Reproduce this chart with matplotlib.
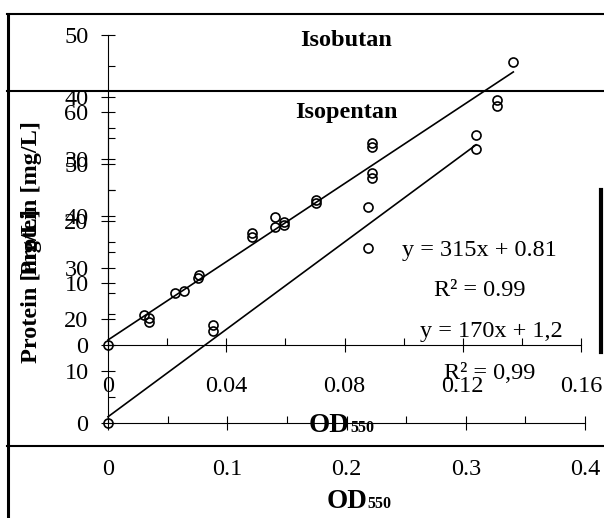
import matplotlib
matplotlib.use('Agg')
import matplotlib.pyplot as plt
import numpy as np
from matplotlib.ticker import MultipleLocator

plt.rcParams['font.family'] = ['Liberation Serif', 'DejaVu Serif']

# ---- Isobutan data ----
iso_b_x = [0, 0.0123, 0.0140, 0.0140, 0.0227, 0.0258, 0.0308, 0.0306, 0.0486, 0.0486,
           0.0565, 0.0565, 0.0596, 0.0596, 0.0704, 0.0704, 0.0892, 0.0892, 0.0892, 0.0892,
           0.1315, 0.1315, 0.1371]
iso_b_y = [0, 4.8, 4.3, 3.75, 8.4, 8.7, 11.3, 10.8, 18.0, 17.45,
           20.7, 18.95, 19.9, 19.35, 23.4, 22.9, 32.5, 31.9, 27.7, 26.9,
           39.5, 38.5, 45.6]
iso_b_slope, iso_b_icpt = 315, 0.81

# ---- Isopentan data ----
iso_p_x = [0, 0.0883, 0.0883, 0.2184, 0.2184, 0.3086, 0.3086]
iso_p_y = [0, 18.9, 17.75, 41.6, 33.8, 55.6, 52.9]
iso_p_slope, iso_p_icpt = 170, 1.2

b_xticks = [0, 0.04, 0.08, 0.12, 0.16]
b_xlabels = ['0', '0.04', '0.08', '0.12', '0.16']
b_yticks = [0, 10, 20, 30, 40, 50]
p_xticks = [0, 0.1, 0.2, 0.3, 0.4]
p_xlabels = ['0', '0.1', '0.2', '0.3', '0.4']
p_yticks = [0, 10, 20, 30, 40, 50, 60]

W, H = 604, 518
fig = plt.figure(figsize=(W / 100, H / 100), dpi=100)


def fx(px):
    return px / W


def fy(py):
    return 1 - py / H


# frame overlay (pixel coordinates)
ax0 = fig.add_axes([0, 0, 1, 1])
ax0.set_xlim(0, W)
ax0.set_ylim(H, 0)
ax0.axis('off')
ax0.patch.set_alpha(0)
flw = 1.5
ax0.plot([7, W], [13.5, 13.5], color='black', lw=flw)
ax0.plot([7, W], [90.7, 90.7], color='black', lw=flw)
ax0.plot([7, W], [446, 446], color='black', lw=flw)
ax0.plot([7.5, 7.5], [13.5, H], color='black', lw=2.2)
ax0.plot([601, 601], [190, 352], color='black', lw=3)

FS = 17.5


def setup(ax, xlim, ylim, xticks, xlabels, yticks, xminor, yminor, xpad):
    ax.set_xlim(xlim)
    ax.set_ylim(ylim)
    ax.patch.set_alpha(0)
    for s in ['top', 'right']:
        ax.spines[s].set_visible(False)
    for s in ['left', 'bottom']:
        ax.spines[s].set_linewidth(0.8)
    ax.set_xticks(xticks)
    ax.set_xticklabels(xlabels)
    ax.set_yticks(yticks)
    ax.set_yticklabels([str(v) for v in yticks])
    ax.xaxis.set_minor_locator(MultipleLocator(xminor))
    ax.yaxis.set_minor_locator(MultipleLocator(yminor))
    ax.tick_params(which='major', direction='inout', length=10, width=0.8,
                   labelsize=FS, colors='black')
    ax.tick_params(axis='y', which='major', pad=9)
    ax.tick_params(axis='x', which='major', pad=xpad)
    ax.tick_params(which='minor', direction='in', length=5, width=0.8)


# Isobutan axes
axA = fig.add_axes([fx(108), fy(345), 473 / W, 310.3 / H])
setup(axA, (0, 0.16), (0, 50), b_xticks, b_xlabels, b_yticks, 0.02, 5, 17)
# Isopentan axes
axB = fig.add_axes([fx(108), fy(423), 477 / W, 311 / H])
setup(axB, (0, 0.4), (0, 60), p_xticks, p_xlabels, p_yticks, 0.05, 5, 21)

mk = dict(marker='o', ls='none', mfc='none', mec='black', ms=6.5, mew=1.2, clip_on=False)
axA.plot(iso_b_x, iso_b_y, **mk)
axB.plot(iso_p_x, iso_p_y, **mk)

xa = np.array([0, max(iso_b_x)])
axA.plot(xa, iso_b_slope * xa + iso_b_icpt, color='black', lw=1.2, clip_on=False)
xb = np.array([0, max(iso_p_x)])
axB.plot(xb, iso_p_slope * xb + iso_p_icpt, color='black', lw=1.2, clip_on=False)

# titles
fig.text(fx(346.5), fy(46.5), 'Isobutan', ha='center', va='baseline',
         fontweight='bold', fontsize=FS)
fig.text(fx(346.5), fy(118), 'Isopentan', ha='center', va='baseline',
         fontweight='bold', fontsize=FS)

# y labels
fig.text(fx(32), fy(286.5), 'Protein [mg/L]', rotation=90, ha='center', va='center',
         fontweight='bold', fontsize=FS)
fig.text(fx(32), fy(198.5), 'Protein [mg/L]', rotation=90, ha='center', va='center',
         fontweight='bold', fontsize=FS)

# x labels OD550
for bx, by in [(350, 431.5), (367, 508)]:
    fig.text(fx(bx), fy(by), 'OD', ha='right', va='baseline', fontweight='bold', fontsize=19.5)
    fig.text(fx(bx), fy(by), '550', ha='left', va='baseline', fontweight='bold', fontsize=11.5)

# equations
fig.text(fx(479), fy(256), 'y = 315x + 0.81', ha='center', va='baseline', fontsize=FS)
fig.text(fx(480), fy(296.5), 'R\u00b2 = 0.99', ha='center', va='baseline', fontsize=FS)
fig.text(fx(491), fy(336.5), 'y = 170x + 1,2', ha='center', va='baseline', fontsize=FS)
fig.text(fx(490), fy(379), 'R\u00b2 = 0,99', ha='center', va='baseline', fontsize=FS)

fig.savefig('out.png', dpi=100)
